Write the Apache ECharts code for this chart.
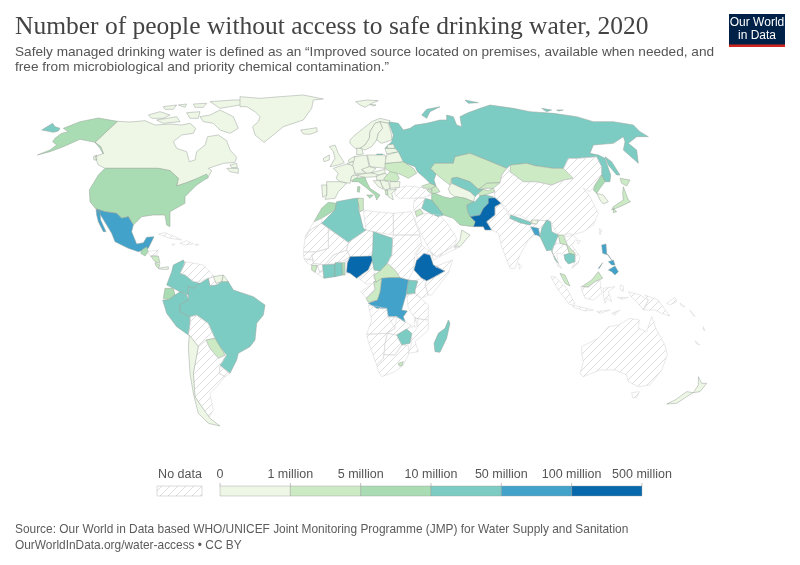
<!DOCTYPE html>
<html><head><meta charset="utf-8">
<style>html,body{margin:0;padding:0;background:#fff}#c{width:800px;height:565px}</style>
<script src="https://cdn.jsdelivr.net/npm/echarts@6/dist/echarts.min.js"></script></head>
<body><div id="c"></div>
<script>
// ---------- values (millions of people; null = no data) ----------
const countries = ['Russia','Canada','United States','Mexico','Greenland','Iceland','Svalbard','Norway','Sweden','Finland','Kazakhstan','Uzbekistan','Turkmenistan','Kyrgyzstan','Tajikistan','Afghanistan','Pakistan','Iran','Iraq','Georgia','Azerbaijan','Armenia','Turkey','Mongolia','China','North Korea','South Korea','Japan','Taiwan','India','Nepal','Bhutan','Bangladesh','Sri Lanka','Myanmar','Thailand','Laos','Cambodia','Vietnam','Malaysia','Indonesia','Philippines','Papua New Guinea','Pacific islands','New Caledonia','New Zealand','Australia','Morocco','Western Sahara','Algeria','Tunisia','Libya','Egypt','Mauritania','Mali','Niger','Senegal','Guinea','Liberia','Sierra Leone','Burkina Faso','Ivory Coast','Ghana','Togo','Benin','Nigeria','Cameroon','Chad','Central African Republic','Sudan','Ethiopia','Eritrea','Somalia','Kenya','Uganda','Tanzania','DR Congo','Congo','Gabon','Angola','Zambia','Malawi','Mozambique','Zimbabwe','Botswana','Namibia','South Africa','Lesotho','Madagascar','Jordan','Saudi Arabia','Oman','Yemen','Syria','United Kingdom','Ireland','France','Spain','Portugal','Netherlands','Belgium','Germany','Denmark','Poland','Czechia','Austria','Switzerland','Italy','Slovakia','Hungary','Romania','Ukraine','Belarus','Latvia','Estonia','Bulgaria','Serbia','Bosnia','Albania','Greece','Guatemala','Honduras','Nicaragua','Costa Rica','Panama','Caribbean','Colombia','Venezuela','Guyana','Suriname','French Guiana','Ecuador','Peru','Brazil','Bolivia','Paraguay','Uruguay','Argentina','Chile'];
const peopleWithoutAccess = [35,0.3,8,55,0.01,0.01,0.001,0.1,0.05,0.02,3,12,0.5,1.5,4,30,150,9,18,1.5,3,1,null,1.5,null,8,0.3,2,null,null,25,0.1,65,null,30,null,4,11,null,2,null,55,null,null,null,0.3,null,7,null,12,2,null,null,null,null,null,null,null,null,3,null,12,14,6,null,105,null,14,4,null,105,null,null,null,25,null,70,3,null,null,null,null,null,11,null,null,null,1,19,2,null,0.5,null,null,0.2,0.1,0.5,0.1,0.1,0.01,0.02,0.1,0.01,0.3,0.1,0.01,0.01,5,0.1,0.1,4,3,0.5,0.1,0.02,0.3,0.5,0.2,1,0.1,5,null,2,1,0.5,null,24,null,null,0.1,0.1,6,15,30,null,2,null,null,0.3];
const binEdges = [0,1,5,10,50,100,500];
const tickLabels = ['0','1 million','5 million','10 million','50 million','100 million','500 million'];
const binColors = ['#eef7e6','#cceac4','#a9dcb2','#7cccc4','#43a2ca','#0868ac'];
const titleText = 'Number of people without access to safe drinking water, 2020';
const subtitleText = 'Safely managed drinking water is defined as an “Improved source located on premises, available when needed, and\nfree from microbiological and priority chemical contamination.”';
const footerText = 'Source: Our World in Data based WHO/UNICEF Joint Monitoring Programme (JMP) for Water Supply and Sanitation\nOurWorldInData.org/water-access • CC BY';

// ---------- country outlines of the base map (plane coordinates, grouped by sheet) ----------
const sheets = {NA:[30,100],SA:[130,240],EU:[300,100],E2:[310,140],AF:[300,195],AS:[420,100],OC:[530,220],GL:[240,85],CA:[130,220]};
const outlines = {
'Russia':[['AS',-95,65,-80,105,-85,125,-105,145,-90,155,-60,165,-55,185,-15,200,-8,215,15,235,30,250,48,258,42,240,48,222,32,205,45,190,100,190,105,170,150,160,200,180,260,205,272,195,320,190,345,197,400,205,430,205,445,175,470,175,530,170,545,200,545,225,555,245,570,245,572,225,555,175,535,165,510,160,520,135,580,130,610,110,615,125,610,150,655,190,650,150,625,130,650,110,685,110,660,95,640,75,580,65,520,65,470,50,400,40,330,35,280,25,210,15,180,25,140,40,120,50,125,80,110,75,100,50,80,45,80,60,60,60,20,70,-15,75,-30,85,-50,90,-65,70],['AS',555,170,575,185,600,225,590,225,565,195],['AS',5,45,20,28,60,20,30,35,20,55],['AS',135,0,175,8,145,10],['AS',365,25,395,30,380,35],['AS',410,30,430,30,415,33],['E2',200,42,218,42,218,48,200,48],['NA',35,90,68,70,75,80,90,85,85,93,70,97]],
'Canada':[['NA',262,64,300,66,345,62,375,75,420,72,455,75,480,70,497,85,490,100,455,105,430,125,440,145,470,155,478,185,495,180,500,155,525,135,533,110,565,105,590,122,600,150,620,172,615,187,580,190,535,205,545,212,532,235,490,240,470,248,440,258,445,235,420,212,385,205,225,205,205,195,195,170,220,160,212,140,195,127],['NA',590,205,625,205,625,220,600,215],['NA',600,195,620,190,622,203,605,203],['NA',510,50,540,45,570,30,610,50,625,85,600,100,570,90,550,70,520,65],['NA',355,45,390,35,420,45,400,55,365,55],['NA',380,60,440,50,450,65,400,70],['NA',540,5,610,0,655,0,630,15,570,25],['NA',400,20,440,15,430,28,405,28],['NA',445,15,470,12,465,22],['NA',490,12,530,10,520,22,495,22],['NA',470,38,510,35,505,55,480,55],['NA',190,170,200,165,200,180,192,180]],
'United States':[['NA',225,205,385,205,420,212,445,235,440,258,470,248,490,240,530,222,535,232,500,255,490,265,465,290,465,310,420,335,420,380,410,375,405,345,370,345,335,350,310,375,295,350,275,355,260,340,225,335,198,327,180,305,178,270,205,225],['NA',262,64,205,54,150,65,125,75,100,85,115,95,95,100,75,115,68,125,80,135,60,150,22,165,60,155,100,140,150,118,195,127,212,140,220,162,210,145,195,127]],
'Mexico':[['NA',200,327,225,335,260,340,275,355,295,350,310,375,305,395,320,432,340,428,350,412,372,410,355,445,340,450,325,455,295,445,255,425,245,400,215,350],['NA',198,328,210,335,212,360,228,395,220,395,205,365,200,345]],
'Greenland':[['GL',0,35,60,40,120,35,190,30,250,42,220,45,215,70,190,105,130,125,100,150,72,172,45,150,38,125,55,110,60,95,45,80,20,65,0,65]],
'Iceland':[['GL',182,135,205,132,230,128,232,140,210,148,190,147]],
'Svalbard':[['GL',347,50,380,45,415,47,395,55,375,67,360,60],['GL',390,58,408,60,398,63]],
'Norway':[['EU',150,120,165,105,190,85,215,65,240,55,270,62,265,70,240,65,225,70,210,95,208,115,195,135,180,145,165,145,150,130]],
'Sweden':[['EU',208,115,210,95,225,70,240,65,248,85,235,100,230,120,215,140,195,150,180,145,195,135]],
'Finland':[['EU',240,65,265,70,275,105,275,120,245,130,230,120,235,100,248,85]],
'Kazakhstan':[['AS',32,205,45,190,100,190,105,170,150,160,200,180,260,205,245,225,240,248,200,250,175,270,150,245,110,232,95,235,90,255,70,240,48,222]],
'Uzbekistan':[['AS',95,235,110,232,150,245,175,268,190,268,175,280,165,290,150,275,120,262,95,250]],
'Turkmenistan':[['AS',85,265,95,250,120,262,150,275,165,290,160,305,135,295,105,290,90,280]],
'Kyrgyzstan':[['AS',175,268,200,250,240,248,220,265,195,265]],
'Tajikistan':[['AS',175,280,190,268,205,272,220,265,225,275,195,285,180,288]],
'Afghanistan':[['AS',140,315,160,305,165,305,180,288,195,285,220,290,205,310,190,325,180,345,150,350,143,335]],
'Pakistan':[['AS',150,350,180,345,190,325,205,310,205,295,225,293,243,310,225,320,225,345,200,365,215,390,195,390,190,380,160,380,165,365]],
'Iran':[['AS',35,280,45,280,70,290,90,295,110,290,135,295,160,305,140,315,143,335,150,350,165,365,160,380,120,375,100,355,70,345,55,325,35,300]],
'Iraq':[['AS',15,295,35,300,55,325,70,345,55,350,30,340,5,325]],
'Georgia':[['AS',5,258,30,250,48,258,35,265,10,265]],
'Azerbaijan':[['AS',35,265,48,258,60,275,45,280,35,280]],
'Armenia':[['AS',20,268,35,268,35,280,25,275]],
'Turkey':[['EU',285,265,320,258,360,262,390,265,395,285,370,292,330,295,300,295,285,285]],
'Mongolia':[['AS',272,195,320,190,345,197,400,205,430,205,460,235,430,240,395,255,350,245,310,245,270,215]],
'China':[['AS',260,205,270,215,310,245,350,245,395,255,430,240,460,235,430,205,445,175,470,175,530,170,545,200,545,225,525,255,510,275,490,265,510,290,535,340,520,375,490,395,440,410,415,405,390,365,355,360,330,365,300,345,270,345,258,325,230,295,225,293,220,265,240,248,245,225],['AS',470,420,482,422,475,433]],
'North Korea':[['AS',545,225,555,245,540,265,530,280,520,270,525,255]],
'South Korea':[['AS',530,280,550,285,565,305,550,312,540,300]],
'Japan':[['AS',600,235,630,240,620,258,605,250],['AS',610,260,625,300,632,305,600,320,575,330,580,320,610,300,608,280],['AS',580,325,590,335,580,338]],
'Taiwan':[['AS',538,385,545,390,540,405]],
'India':[['AS',225,320,243,312,262,338,270,355,300,368,330,375,335,372,350,372,355,360,385,362,370,385,360,410,355,385,332,382,345,405,325,420,300,465,285,505,270,505,245,440,235,400,215,390,200,365,225,345]],
'Nepal':[['AS',272,345,300,355,335,368,330,375,300,368,270,355]],
'Bhutan':[['AS',335,360,355,360,350,372,335,370]],
'Bangladesh':[['AS',332,380,355,385,360,410,350,405,345,405]],
'Sri Lanka':[['AS',296,490,306,500,298,508]],
'Myanmar':[['OC',50,0,62,5,65,35,85,45,75,70,65,95,85,130,75,120,65,90,50,92,30,50,35,25]],
'Thailand':[['OC',75,70,90,70,110,75,118,100,102,105,95,100,80,100,85,130,95,145,85,140,76,120,65,92]],
'Laos':[['OC',85,45,100,45,112,75,135,100,135,105,118,100,110,75,90,70]],
'Cambodia':[['OC',102,105,118,100,135,105,135,125,115,132,105,120]],
'Vietnam':[['OC',100,45,120,40,140,55,125,75,150,110,145,130,125,145,135,125,135,100,112,75]],
'Malaysia':[['OC',90,160,105,165,120,198,105,190],['OC',155,200,185,180,205,155,218,175,195,185,175,200]],
'Indonesia':[['OC',62,170,75,170,110,205,135,250,120,255,85,210],['OC',128,255,190,270,165,273,130,262],['OC',200,275,240,270,210,280],['OC',245,280,270,270,255,285],['OC',152,200,175,203,195,185,210,180,215,220,190,240,165,235],['OC',220,205,255,200,235,215,245,245,232,235,225,250,220,225],['OC',295,215,330,225,355,240,340,270,320,245,305,232],['OC',270,195,280,198,280,215,272,210],['OC',262,232,295,232,275,238]],
'Philippines':[['OC',215,75,228,72,230,100,245,120,235,105,218,100],['OC',235,150,255,138,265,155,255,165,245,155],['OC',235,125,250,120,255,135,245,135],['OC',205,145,218,128,208,145]],
'Papua New Guinea':[['OC',345,225,385,240,395,255,420,288,395,280,375,270,340,270,355,240],['OC',410,250,435,232,440,245,420,255]],
'Pacific islands':[['OC',450,250,465,260,455,258],['OC',480,270,495,290,485,280],['OC',520,320,525,332,520,330]],
'New Caledonia':[['OC',495,362,510,375,500,372]],
'New Zealand':[['OC',505,470,515,490,530,490,510,515,490,518,505,495],['OC',490,518,470,530,440,550,410,552,435,540,470,515]],
'Australia':[['OC',155,380,205,355,235,320,265,315,300,295,328,300,325,325,350,335,365,290,380,330,405,375,412,405,395,450,360,495,325,500,295,485,290,465,255,450,210,450,160,470,150,462,160,425,155,400],['OC',305,518,328,515,320,533,308,533]],
'Morocco':[['AF',42,80,65,40,85,22,110,25,105,45,65,70]],
'Western Sahara':[['AF',15,125,42,80,65,70,65,85,30,105]],
'Algeria':[['AF',65,85,105,45,110,20,165,10,178,10,175,40,190,100,198,105,145,142]],
'Tunisia':[['AF',172,10,190,10,190,45,180,50]],
'Libya':[['AF',190,45,225,50,280,55,280,120,220,110,198,105]],
'Egypt':[['AF',280,55,335,50,360,120,280,120]],
'Mauritania':[['AF',15,130,30,105,65,85,85,100,85,160,50,170,10,170]],
'Mali':[['AF',85,100,145,142,140,165,100,180,75,210,40,205,35,180,50,170,85,160]],
'Niger':[['AF',145,142,198,105,220,110,218,170,215,185,150,185,140,165]],
'Senegal':[['AF',10,172,50,170,35,180,40,195,12,190]],
'Guinea':[['AF',12,192,40,195,40,205,75,210,68,212,68,228,60,232,52,212,35,210,22,205]],
'Liberia':[['AF',52,212,60,232,68,228,72,250,45,232]],
'Sierra Leone':[['AF',35,210,52,212,45,232,35,225]],
'Burkina Faso':[['AF',75,210,100,180,140,165,150,185,135,195,105,205,68,210]],
'Ivory Coast':[['AF',68,210,105,208,105,245,72,250]],
'Ghana':[['AF',105,203,125,203,128,240,105,245]],
'Togo':[['AF',126,203,135,203,135,240,128,240]],
'Benin':[['AF',135,195,150,185,142,205,142,235,135,240]],
'Nigeria':[['AF',150,185,215,183,218,195,205,225,190,235,170,250,150,235,140,232,142,205]],
'Cameroon':[['AF',205,225,218,195,225,230,220,250,240,260,200,268,175,250]],
'Chad':[['AF',220,110,278,130,275,180,262,205,240,228,222,225,215,185,218,170]],
'Central African Republic':[['AF',222,240,240,228,262,205,285,225,300,248,270,248,250,250,228,262]],
'Sudan':[['AF',280,120,360,120,365,150,345,175,340,225,325,255,300,248,285,225,262,205,275,180,278,130]],
'Ethiopia':[['AF',372,175,390,180,400,210,435,228,405,245,380,258,365,250,342,225,350,195]],
'Eritrea':[['AF',350,175,365,150,400,180,390,180,372,175,352,195]],
'Somalia':[['AF',405,215,458,195,445,235,395,300,385,300,375,270,380,258,405,245,435,228]],
'Kenya':[['AF',335,260,365,250,380,258,375,270,385,300,365,310,345,295,345,285,353,258]],
'Uganda':[['AF',325,255,353,258,345,285,345,295,320,298]],
'Tanzania':[['AF',320,300,345,295,385,330,385,375,345,370,325,340]],
'DR Congo':[['AF',245,250,270,248,300,248,325,255,318,300,305,345,322,348,310,365,316,382,290,365,265,365,260,340,230,340,205,325,232,315,240,290]],
'Congo':[['AF',222,258,228,262,245,250,240,290,232,315,205,322,198,310,215,295,225,285]],
'Gabon':[['AF',182,290,220,265,225,285,200,310]],
'Angola':[['AF',205,330,260,340,265,365,290,365,285,400,260,415,200,418,215,375]],
'Zambia':[['AF',265,365,290,365,315,380,340,395,320,402,290,420,262,415,285,400]],
'Malawi':[['AF',345,365,352,395,342,395]],
'Mozambique':[['AF',345,370,385,375,385,405,345,440,355,470,325,475,335,445,335,420,355,395,352,370]],
'Zimbabwe':[['AF',290,420,320,402,335,415,330,445,305,450]],
'Botswana':[['AF',262,415,290,420,305,450,285,480,252,480,255,445]],
'Namibia':[['AF',200,418,262,415,255,445,250,490,230,510,205,440]],
'South Africa':[['AF',230,510,250,490,252,478,285,480,305,450,325,452,325,480,310,510,285,530,245,545,235,530]],
'Lesotho':[['AF',295,505,310,500,305,513,297,512]],
'Madagascar':[['AF',445,375,450,385,440,430,420,472,405,470,402,445,415,415,435,400]],
'Jordan':[['AF',345,50,360,42,370,55,350,65]],
'Saudi Arabia':[['AF',350,65,375,55,420,60,445,90,470,130,465,150,410,185,395,175,365,120,345,75]],
'Oman':[['AS',125,390,150,405,120,440,103,442,120,420]],
'Yemen':[['AF',395,172,410,185,465,150,480,155,430,180,400,195]],
'Syria':[['AS',-15,295,15,295,5,325,-18,335,-20,315]],
'United Kingdom':[['E2',58,20,75,15,85,40,103,68,85,75,60,80,75,55,70,35]],
'Ireland':[['E2',40,55,58,45,58,60,42,65]],
'France':[['E2',85,80,110,72,130,75,135,100,125,110,120,130,90,125,78,115,85,100,70,85]],
'Spain':[['E2',50,125,90,125,110,130,85,155,75,175,45,178,50,165,50,135]],
'Portugal':[['E2',35,135,50,135,50,165,38,172]],
'Netherlands':[['E2',115,60,135,48,135,62,118,68]],
'Belgium':[['E2',112,70,128,65,135,75,128,78]],
'Germany':[['E2',135,50,170,45,178,82,155,90,170,100,135,100,128,75]],
'Denmark':[['E2',140,25,155,25,160,42,140,45]],
'Poland':[['E2',172,45,225,45,230,65,225,85,180,80]],
'Czechia':[['E2',155,88,178,80,198,85,185,98,170,100]],
'Austria':[['E2',135,105,170,100,205,98,200,110,165,112]],
'Switzerland':[['E2',125,108,145,105,140,118,122,122]],
'Italy':[['E2',135,115,165,112,170,125,180,145,210,165,200,180,195,165,165,140,145,125,125,125],['E2',170,165,190,165,180,175],['E2',143,140,150,140,148,157,142,155]],
'Slovakia':[['E2',185,98,225,88,225,100,205,105]],
'Hungary':[['E2',200,108,225,100,240,108,215,122,200,120]],
'Romania':[['E2',240,95,255,90,268,115,260,125,225,122,222,115]],
'Ukraine':[['E2',225,70,280,65,310,85,320,100,295,115,275,105,262,100,240,95,225,85]],
'Belarus':[['E2',230,45,265,35,280,65,225,70]],
'Latvia':[['E2',225,25,255,25,265,35,230,42]],
'Estonia':[['E2',232,15,250,12,255,25,232,25]],
'Bulgaria':[['E2',240,125,270,125,268,142,240,145]],
'Serbia':[['E2',210,120,235,125,240,145,225,150,215,135]],
'Bosnia':[['E2',190,122,210,122,215,135,220,148,205,140]],
'Albania':[['E2',225,150,232,150,235,165,228,165]],
'Greece':[['E2',232,150,260,148,245,160,250,180,235,170]],
'Guatemala':[['NA',335,450,350,440,355,455,345,468,332,460]],
'Honduras':[['CA',52,95,85,90,80,105,62,108]],
'Nicaragua':[['CA',62,108,85,108,90,130,75,125]],
'Costa Rica':[['CA',75,128,90,135,85,145,78,138]],
'Panama':[['CA',85,145,115,140,115,148,95,148]],
'Caribbean':[['CA',85,42,105,38,140,52,155,60,120,55,100,48],['CA',150,70,170,62,190,72,165,75],['CA',125,72,135,72,130,77],['CA',197,72,205,72,205,76,197,76]],
'Colombia':[['SA',160,60,165,70,150,100,165,105,190,125,210,130,190,145,175,140,175,165,150,155,130,145,110,135,125,95,130,75]],
'Venezuela':[['SA',165,65,220,75,255,110,235,115,205,125,190,125,165,105,150,100]],
'Guyana':[['SA',235,115,255,110,260,135,240,138]],
'Suriname':[['SA',250,110,280,105,275,125,258,130]],
'French Guiana':[['SA',280,105,295,125,275,130]],
'Ecuador':[['SA',105,145,130,145,135,165,115,180,100,175]],
'Peru':[['SA',98,180,115,180,135,165,150,155,170,165,175,180,150,195,150,215,180,230,180,250,175,285,140,260,110,220]],
'Brazil':[['SA',175,140,190,145,210,130,235,115,240,138,260,135,275,125,295,125,310,150,370,170,405,195,400,225,380,250,375,300,360,320,325,340,320,360,300,400,270,375,290,345,270,320,255,295,235,250,200,225,180,230,150,215,150,195,175,180]],
'Bolivia':[['SA',180,230,200,225,235,250,255,295,228,300,205,320,175,285,180,250]],
'Paraguay':[['SA',228,300,255,295,270,320,285,345,265,355,240,325]],
'Uruguay':[['SA',270,378,300,400,285,410,268,400]],
'Argentina':[['SA',205,320,228,300,240,325,265,355,290,345,270,378,268,400,285,410,260,440,240,460,250,510,235,535,215,500,195,470,190,400]],
'Chile':[['SA',178,285,205,320,190,400,195,470,215,500,240,535,270,558,235,550,205,520,190,460,180,400,175,320]]
};

// ---------- build the geo data and the series ----------
const features = Object.keys(outlines).map(name => ({
  type:'Feature', properties:{name},
  geometry:{type:'MultiPolygon', coordinates: outlines[name].map(p => {
    const o = sheets[p[0]], ring = [];
    for (let i = 1; i < p.length; i += 2) ring.push([o[0]+p[i]/3, o[1]+p[i+1]/3]);
    ring.push(ring[0].slice());
    return [ring];
  })}
}));
echarts.registerMap('owid', {type:'FeatureCollection', features});

const tile = document.createElement('canvas');
tile.width = tile.height = 8;
const g = tile.getContext('2d');
g.strokeStyle = '#dedede'; g.lineWidth = 1;
g.beginPath();
[[-1,1,1,-1],[0,8,8,0],[7,9,9,7]].forEach(l => {g.moveTo(l[0],l[1]);g.lineTo(l[2],l[3]);});
g.stroke();
const hatch = {image:tile, repeat:'repeat'};

function binColor(v){
  for (let i = binColors.length-1; i >= 0; i--) if (v >= binEdges[i]) return binColors[i];
  return binColors[0];
}
const mapData = countries.map((name,i) => {
  const v = peopleWithoutAccess[i];
  return {name, value: v==null?NaN:v, itemStyle: v==null
    ? {areaColor:hatch, borderColor:'#d2d2d2', borderWidth:0.5}
    : {areaColor:binColor(v), borderColor:'#98a39b', borderWidth:0.5}};
});

// ---------- legend and logo as graphic elements ----------
const sans = '"Liberation Sans",Arial,sans-serif';
const barX = 220, barW = 70.33, barY = 486, barH = 10;
const legend = [];
binColors.forEach((c,i) => legend.push({type:'rect', silent:true, shape:{x:barX+i*barW,y:barY,width:barW,height:barH}, style:{fill:c, stroke:'#999', lineWidth:0.4}}));
tickLabels.forEach((t,i) => {
  legend.push({type:'line', silent:true, shape:{x1:barX+i*barW,y1:barY-3,x2:barX+i*barW,y2:barY}, style:{stroke:'#999',lineWidth:0.6}});
  legend.push({type:'text', silent:true, x:barX+i*barW, y:475, style:{text:t, font:'12.5px '+sans, fill:'#555', align:'center', verticalAlign:'middle'}});
});
legend.push({type:'rect', silent:true, shape:{x:157,y:486,width:45,height:10}, style:{fill:hatch, stroke:'#bbb', lineWidth:0.5}});
legend.push({type:'text', silent:true, x:180, y:475, style:{text:'No data', font:'12.5px '+sans, fill:'#555', align:'center', verticalAlign:'middle'}});
const logo = [
  {type:'rect', silent:true, shape:{x:729,y:14,width:56,height:33}, style:{fill:'#002147'}},
  {type:'rect', silent:true, shape:{x:729,y:44.5,width:56,height:2.5}, style:{fill:'#ce261e'}},
  {type:'text', silent:true, x:757, y:23, style:{text:'Our World', font:'500 12px '+sans, fill:'#fff', align:'center', verticalAlign:'middle'}},
  {type:'text', silent:true, x:757, y:36, style:{text:'in Data', font:'500 12px '+sans, fill:'#fff', align:'center', verticalAlign:'middle'}}
];

const chart = echarts.init(document.getElementById('c'), null, {renderer:'canvas'});
chart.setOption({
  animation:false,
  backgroundColor:'#fff',
  title:[
    {text:titleText, left:10, top:9, textStyle:{fontFamily:'"Liberation Serif",serif', fontWeight:'normal', fontSize:25.5, color:'#444'}},
    {text:subtitleText, left:10, top:39, textStyle:{fontFamily:sans, fontWeight:'normal', fontSize:13.63, color:'#555', lineHeight:15.5}},
    {text:footerText, left:10, top:516, textStyle:{fontFamily:sans, fontWeight:'normal', fontSize:11.9, color:'#5b5b5b', lineHeight:16.5}}
  ],
  series:[{
    type:'map', map:'owid', silent:true, roam:false,
    projection:{project:p=>p, unproject:p=>p},
    boundingCoords:[[0,0],[800,565]],
    left:0, top:0, width:800, height:565,
    label:{show:false}, emphasis:{disabled:true}, select:{disabled:true},
    data:mapData
  }],
  graphic:legend.concat(logo)
});
</script></body></html>
